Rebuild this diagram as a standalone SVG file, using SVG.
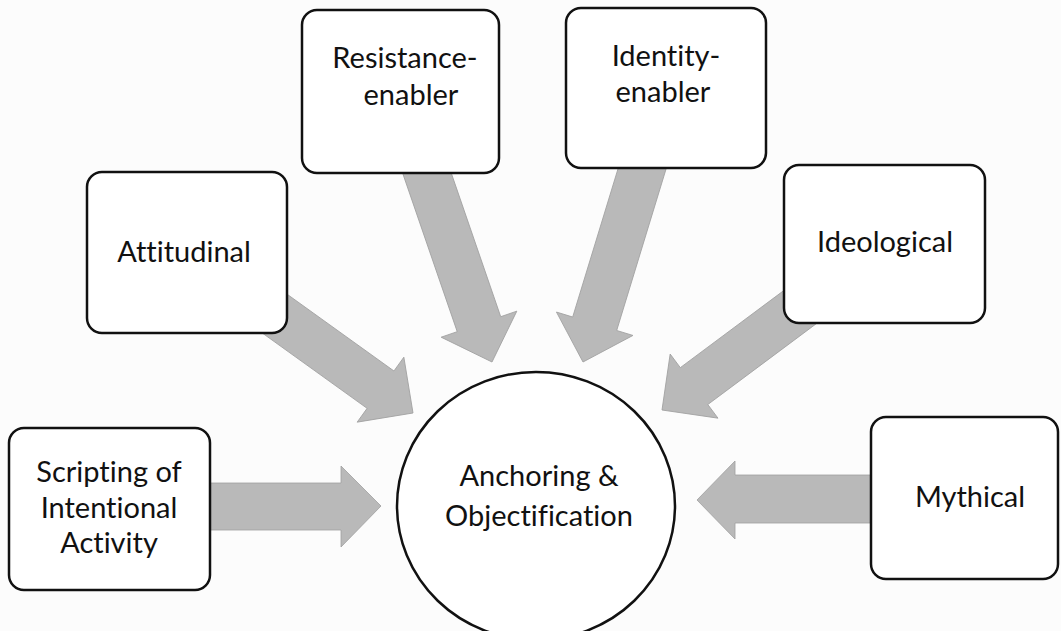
<svg xmlns="http://www.w3.org/2000/svg" width="1061" height="631" viewBox="0 0 1061 631">
<defs>
<style>
.box{fill:#fff;stroke:#111;stroke-width:2.5}
.arr{fill:#b9b9b9;stroke:#a0a0a0;stroke-width:0.8}
.t{font-family:Lato,"Open Sans","Liberation Sans",sans-serif;font-size:29px;fill:#111;text-anchor:middle;font-variant-ligatures:none;font-feature-settings:"liga" 0}
</style>
<polygon id="arrowShape" points="0,0 -40,-40 -40,-23 -220,-23 -220,23 -40,23 -40,40"/>
</defs>
<rect width="1061" height="631" fill="#fcfcfc"/>
<g id="connectors">
<polygon class="arr" points="200,483 341,483 341,466 381,506 341,547 341,530 200,530"/>
<polygon class="arr" points="697,500 735,461 735,475 880,475 880,523 735,523 735,539"/>
<use href="#arrowShape" class="arr" transform="translate(413,413) rotate(35.7)"/>
<use href="#arrowShape" class="arr" transform="translate(492,362) rotate(71)"/>
<use href="#arrowShape" class="arr" transform="translate(583,362) rotate(107)"/>
<use href="#arrowShape" class="arr" transform="translate(662,410) rotate(143.3)"/>
</g>
<g id="node-scripting">
<rect class="box" x="9" y="428" width="201" height="162" rx="15"/>
<text class="t" x="109" y="482">Scripting of</text>
<text class="t" x="109" y="518">Intentional</text>
<text class="t" x="109" y="553">Activity</text>
</g>
<g id="node-attitudinal">
<rect class="box" x="87" y="172" width="200" height="161" rx="15"/>
<text class="t" x="184" y="262">Attitudinal</text>
</g>
<g id="node-resistance">
<rect class="box" x="302" y="10" width="197" height="163" rx="15"/>
<text class="t" x="405" y="68">Resistance-</text>
<text class="t" x="411" y="105">enabler</text>
</g>
<g id="node-identity">
<rect class="box" x="566" y="8" width="200" height="160" rx="15"/>
<text class="t" x="666" y="66">Identity-</text>
<text class="t" x="663" y="102">enabler</text>
</g>
<g id="node-ideological">
<rect class="box" x="784" y="165" width="201" height="158" rx="15"/>
<text class="t" x="885" y="252">Ideological</text>
</g>
<g id="node-mythical">
<rect class="box" x="871" y="417" width="187" height="162" rx="15"/>
<text class="t" x="970" y="507">Mythical</text>
</g>
<g id="node-anchoring">
<ellipse cx="536" cy="506" rx="139" ry="134" fill="#fff" stroke="#111" stroke-width="2.5"/>
<text class="t" x="539" y="486">Anchoring &amp;</text>
<text class="t" x="539" y="526">Objectification</text>
</g>
</svg>
